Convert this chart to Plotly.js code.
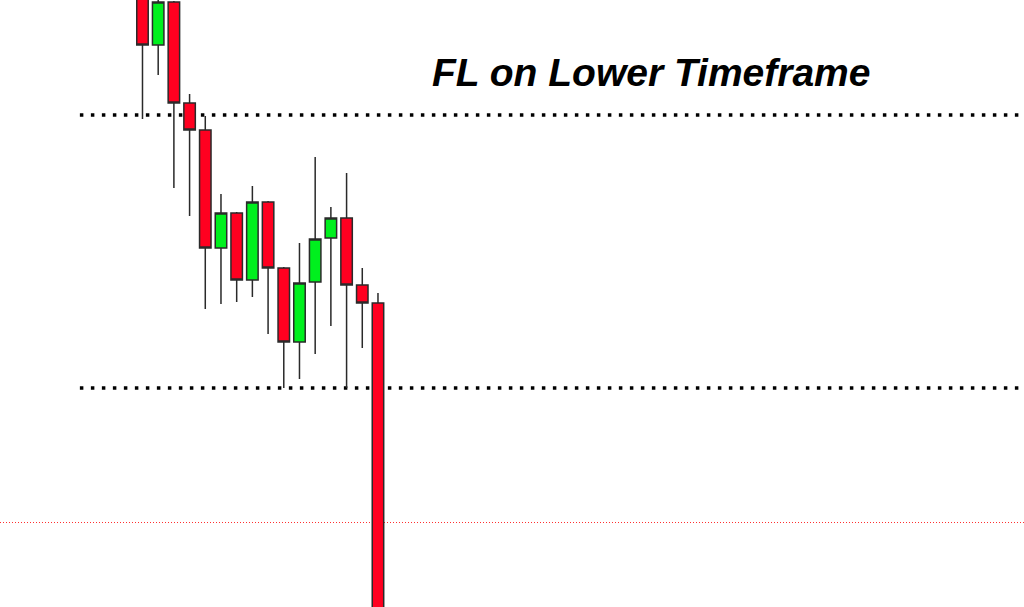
<!DOCTYPE html>
<html>
<head>
<meta charset="utf-8">
<script src="https://cdn.plot.ly/plotly-3.0.1.min.js"></script>
<style>html,body{margin:0;padding:0;background:#fff;}#chart{width:1024px;height:607px;}</style>
</head>
<body>
<div id="chart"></div>
<script>
// Candle data (arbitrary price units)
const bars  = [1, 2, 3, 4, 5, 6, 7, 8, 9, 10, 11, 12, 13, 14, 15, 16];
const opens = [625, 562, 605, 504, 477, 359, 394, 327, 405, 339, 265, 325, 369, 389, 322, 304];
const highs = [630, 612, 606, 513, 491, 413, 395, 421, 406, 340, 364, 450, 400, 434, 339, 314];
const lows  = [488, 532, 419, 391, 298, 303, 305, 310, 273, 219, 228, 253, 281, 219, 259, -25];
const closes= [562, 605, 504, 477, 359, 394, 327, 405, 339, 265, 324, 368, 389, 322, 304, -20];

// Horizontal levels
const upperLevel = 492;
const lowerLevel = 219;
const redLevel = 84.5;
const titleText = "FL on Lower Timeframe";

const trace = {
  type: 'candlestick',
  x: bars, open: opens, high: highs, low: lows, close: closes,
  increasing: {fillcolor: '#00f01e', line: {color: '#2a2a2a', width: 1.5}},
  decreasing: {fillcolor: '#ff0020', line: {color: '#2a2a2a', width: 1.5}},
  whiskerwidth: 0,
  hoverinfo: 'none',
  showlegend: false
};

const layout = {
  width: 1024, height: 607,
  margin: {l: 0, r: 0, t: 0, b: 0},
  paper_bgcolor: '#ffffff', plot_bgcolor: '#ffffff',
  showlegend: false,
  boxgap: 0.15, boxgroupgap: 0.14,
  xaxis: {range: [-8.076, 57.15], visible: false, rangeslider: {visible: false}, fixedrange: true},
  yaxis: {range: [0, 607], visible: false, fixedrange: true},
  shapes: [
    {type: 'line', xref: 'paper', yref: 'y', x0: 0.078, x1: 1, y0: upperLevel, y1: upperLevel,
     line: {color: '#000000', width: 3.5, dash: '3.5px,7.5px'}, layer: 'below'},
    {type: 'line', xref: 'paper', yref: 'y', x0: 0.078, x1: 1, y0: lowerLevel, y1: lowerLevel,
     line: {color: '#000000', width: 3.5, dash: '3.5px,7.5px'}, layer: 'below'},
    {type: 'line', xref: 'paper', yref: 'y', x0: 0, x1: 1, y0: redLevel, y1: redLevel,
     line: {color: '#ff3030', width: 1, dash: '1px,2px'}, layer: 'below'}
  ],
  annotations: [
    {text: '<b><i>' + titleText + '</i></b>', xref: 'paper', yref: 'y', x: 0.636, y: 535,
     xanchor: 'center', yanchor: 'middle', showarrow: false,
     font: {family: 'Liberation Sans, Arial, sans-serif', size: 39, color: '#000000'}}
  ]
};

Plotly.newPlot('chart', [trace], layout, {displayModeBar: false, staticPlot: true});
</script>
</body>
</html>
